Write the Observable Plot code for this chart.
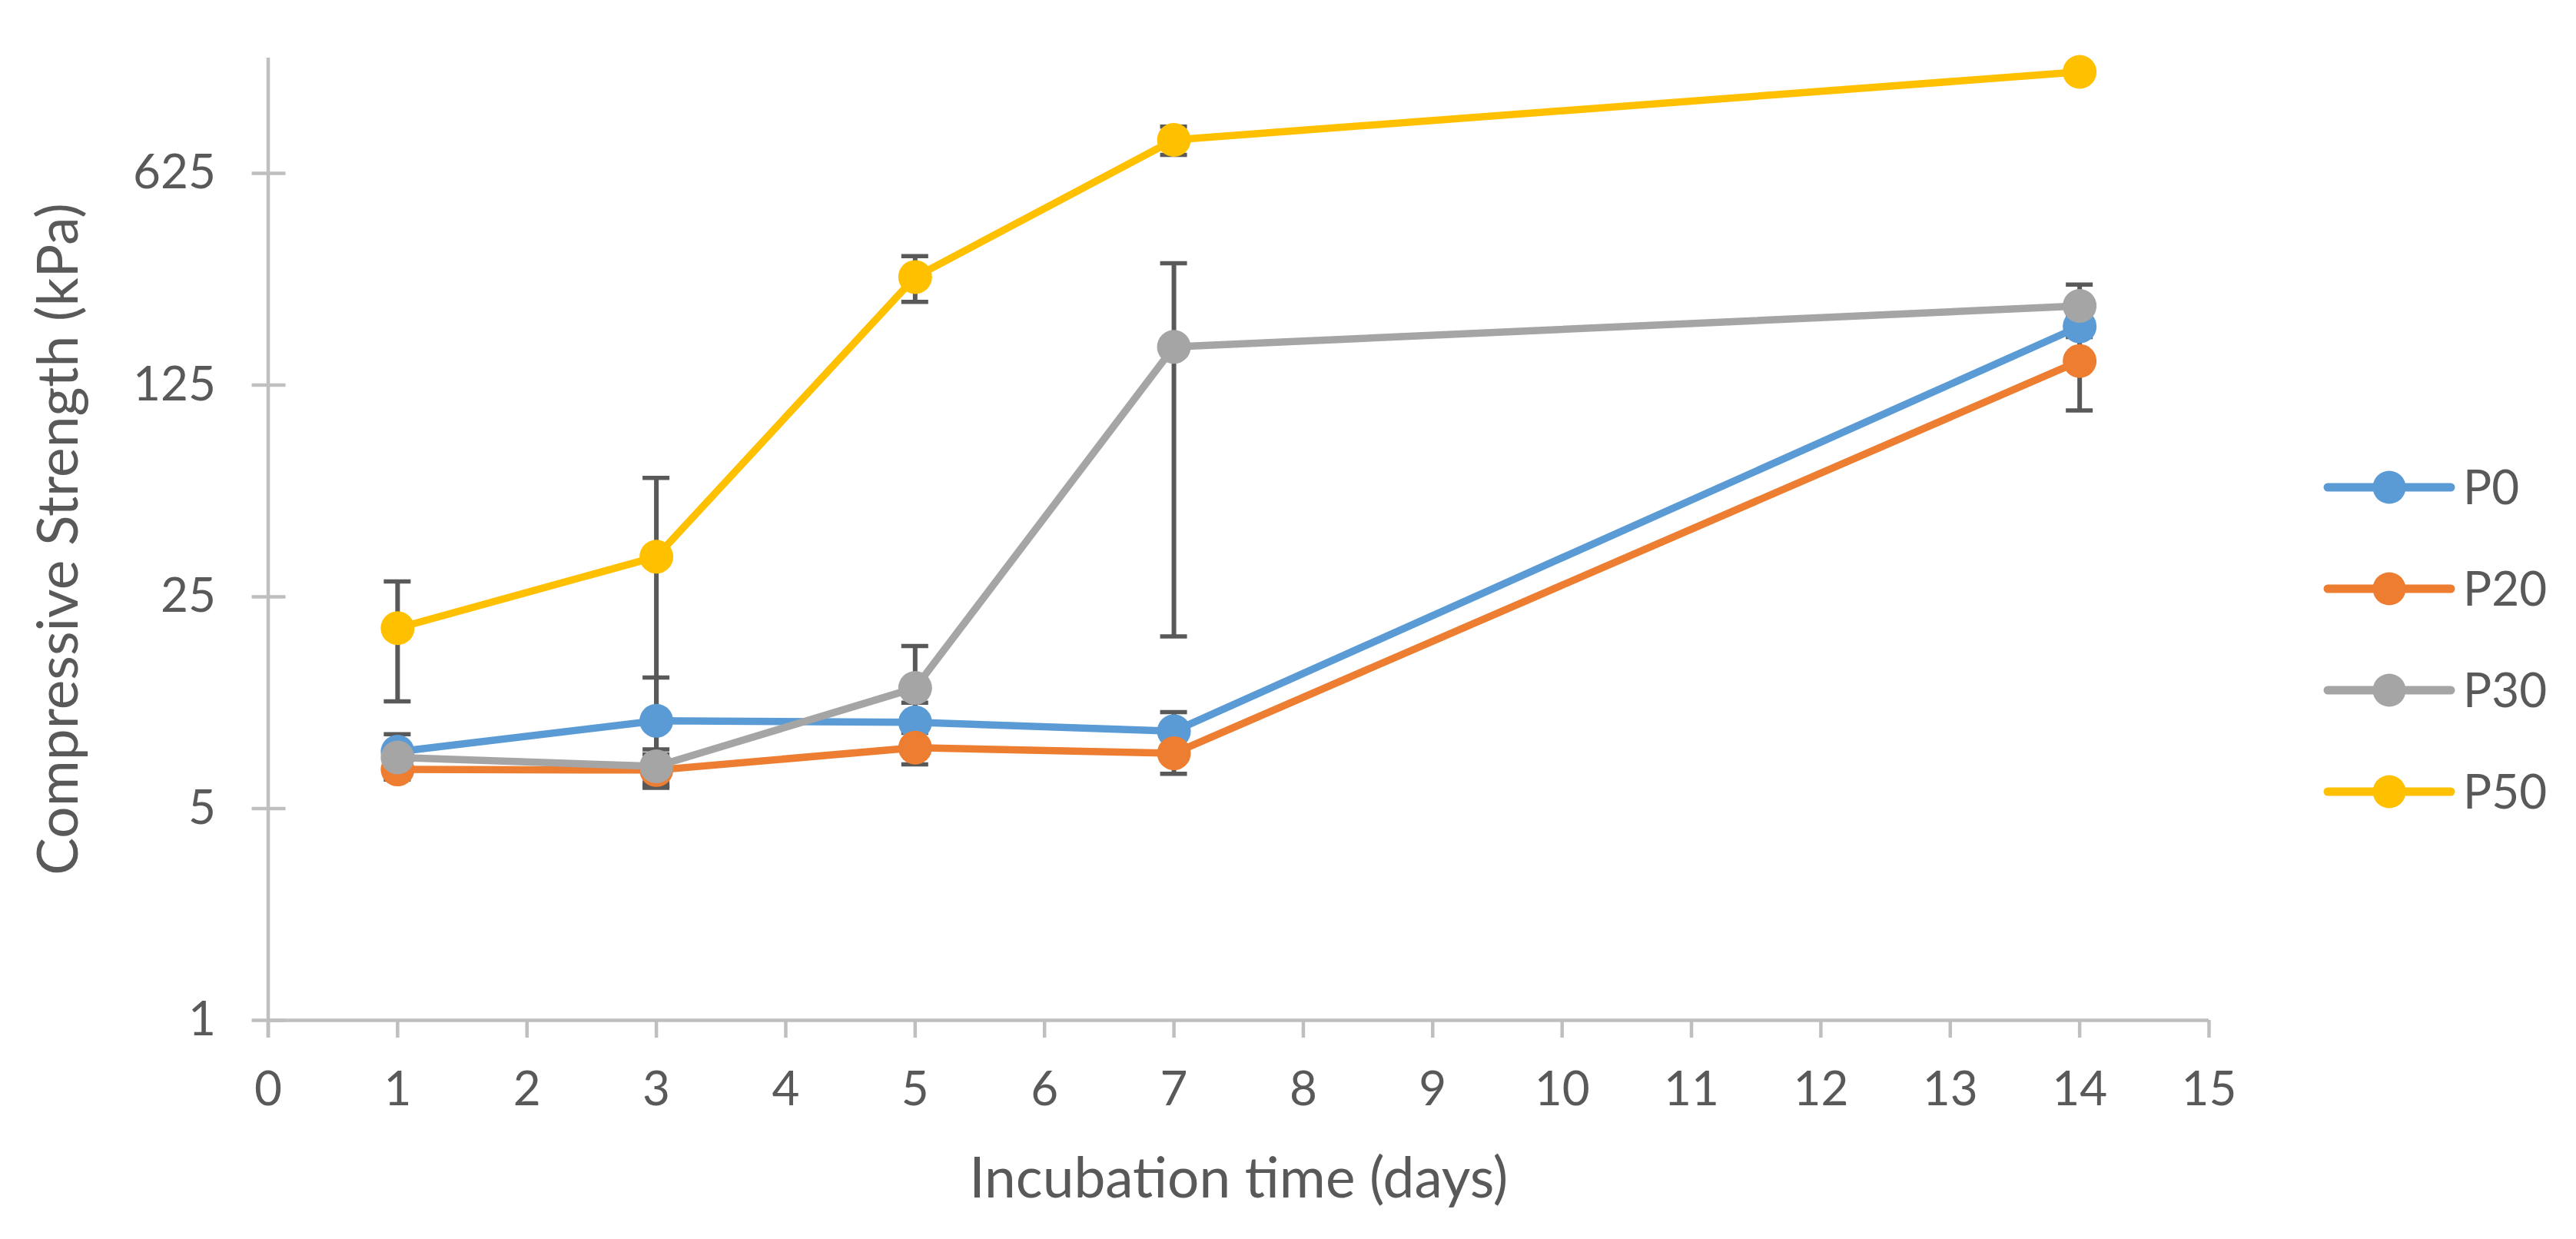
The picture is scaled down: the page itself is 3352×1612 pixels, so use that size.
<!DOCTYPE html>
<html>
<head>
<meta charset="utf-8">
<script src="https://cdn.jsdelivr.net/npm/d3@7"></script>
<script src="https://cdn.jsdelivr.net/npm/@observablehq/plot@0.6"></script>
<style>
  html, body { margin: 0; padding: 0; background: #ffffff; }
  #wrap { position: relative; width: 3352px; height: 1612px; overflow: hidden; }
  #legend { position: absolute; left: 2990px; top: 560px; }
</style>
</head>
<body>
<div id="wrap"></div>
<script>
// ---- data ----
const days = [1, 3, 5, 7, 14];
const seriesNames = ["P0", "P20", "P30", "P50"];
const p0 = [7.7, 9.74, 9.63, 9.0, 195];
const p0Err = [1.1, 3.8, 1.55, 1.4, 15];
const p20 = [6.73, 6.7, 7.94, 7.61, 150];
const p20Err = [0.5, 0.85, 0.95, 1.1, 47];
const p30 = [7.37, 6.89, 12.5, 167, 228];
const p30Err = [0.4, 0.95, 4.7, 148.5, 40];
const p50 = [19.7, 33.9, 284, 805, 1350];
const p50Err = [8.4, 27.8, 49, 86, 0];
const xTicks = [0, 1, 2, 3, 4, 5, 6, 7, 8, 9, 10, 11, 12, 13, 14, 15];
const yTicks = [1, 5, 25, 125, 625];
const colors = ["#5B9BD5", "#ED7D31", "#A5A5A5", "#FFC000"];
const xTitle = "Incubation time (days)";
const yTitle = "Compressive Strength (kPa)";

// ---- table built from the arrays ----
const values = [p0, p20, p30, p50];
const errors = [p0Err, p20Err, p30Err, p50Err];
const rows = [];
seriesNames.forEach((s, k) => {
  days.forEach((d, i) => {
    rows.push({series: s, day: d, value: values[k][i], err: errors[k][i]});
  });
});

const textColor = "#595959";
const axisColor = "#BFBFBF";
const font = "Lato, 'Open Sans', sans-serif";

const chart = Plot.plot({
  width: 3352,
  height: 1612,
  marginLeft: 348.5,
  marginRight: 478,
  marginTop: 75,
  marginBottom: 285,
  style: {fontFamily: font, background: "#ffffff", color: textColor, overflow: "visible"},
  x: {domain: [0, 15]},
  y: {type: "log", base: 5, domain: [1, 1500]},
  color: {domain: seriesNames, range: colors},
  marks: [
    // axis lines and tick marks (Excel style)
    Plot.ruleX([0], {stroke: axisColor, strokeWidth: 4.5, insetBottom: -23}),
    Plot.ruleY([1], {stroke: axisColor, strokeWidth: 4.5}),
    Plot.ruleX(xTicks, {x: d => d, y1: 1, y2: 1, insetBottom: -23, stroke: axisColor, strokeWidth: 4.5}),
    Plot.ruleY(yTicks, {y: d => d, x1: 0, x2: 0, insetLeft: -21, insetRight: -23, stroke: axisColor, strokeWidth: 4.5}),
    Plot.axisX({ticks: xTicks, tickSize: 0, tickPadding: 66, fontSize: 62, fill: textColor, label: null, tickFormat: d => String(d)}),
    Plot.axisY({ticks: yTicks, tickSize: 0, tickPadding: 68, fontSize: 62, fill: textColor, label: null, tickFormat: d => String(d)}),
    // axis titles
    Plot.text([xTitle], {frameAnchor: "bottom", dy: 207, text: d => d, fontSize: 73, fill: textColor, lineAnchor: "middle", textAnchor: "middle"}),
    Plot.text([yTitle], {frameAnchor: "left", dx: -271, rotate: -90, text: d => d, fontSize: 73, fill: textColor, lineAnchor: "middle", textAnchor: "middle"}),
    // error bars
    Plot.ruleX(rows, {x: "day", y1: d => d.value - d.err, y2: d => d.value + d.err, stroke: textColor, strokeWidth: 6}),
    Plot.ruleY(rows, {x1: "day", x2: "day", y: d => d.value - d.err, insetLeft: -17.5, insetRight: -17.5, stroke: textColor, strokeWidth: 5.5}),
    Plot.ruleY(rows, {x1: "day", x2: "day", y: d => d.value + d.err, insetLeft: -17.5, insetRight: -17.5, stroke: textColor, strokeWidth: 5.5}),
    // series
    Plot.line(rows, {x: "day", y: "value", z: "series", stroke: "series", strokeWidth: 9.5, strokeLinejoin: "round", strokeLinecap: "round"}),
    Plot.dot(rows, {x: "day", y: "value", fill: "series", r: 22})
  ]
});

const wrap = document.getElementById("wrap");
wrap.appendChild(chart);

// ---- legend on the right ----
const legend = d3.select(wrap).append("div").attr("id", "legend");
const lsvg = legend.append("svg").attr("width", 340).attr("height", 520);
seriesNames.forEach((s, i) => {
  const g = lsvg.append("g").attr("transform", `translate(0, ${74 + i * 132})`);
  g.append("line").attr("x1", 39).attr("x2", 199).attr("y1", 0).attr("y2", 0)
    .attr("stroke", colors[i]).attr("stroke-width", 11).attr("stroke-linecap", "round");
  g.append("circle").attr("cx", 119).attr("cy", 0).attr("r", 21.5).attr("fill", colors[i]);
  g.append("text").attr("x", 215).attr("y", 0).attr("dy", "0.36em")
    .attr("fill", textColor).style("font-family", font).style("font-size", "62px").text(s);
});
</script>
</body>
</html>
